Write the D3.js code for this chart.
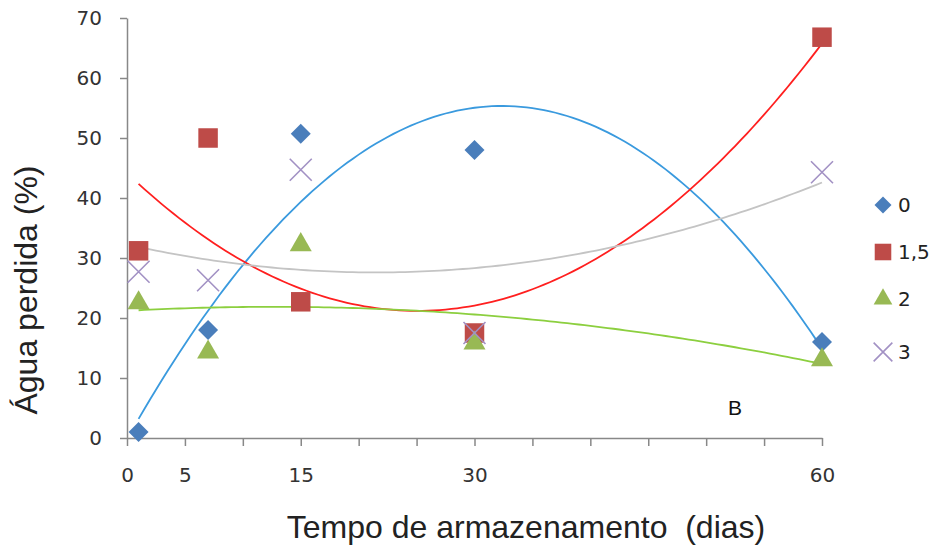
<!DOCTYPE html>
<meta charset="utf-8">
<style>
body { margin: 0; background: #fff; }
.tick text { font-family: "DejaVu Sans", Verdana, sans-serif; font-size: 20px; fill: #333; }
.axis path, .axis line { stroke: #888; stroke-width: 1.5; }
.title { font-family: "Liberation Sans", Arial, sans-serif; font-size: 32px; fill: #222; }
.legend text { font-family: "DejaVu Sans", Verdana, sans-serif; font-size: 20px; fill: #222; }
</style>
<body>
<script src="https://d3js.org/d3.v7.min.js"></script>
<script>

// storage days
var days = [1, 7, 15, 30, 60];

// water lost (%) per treatment
var s0  = [1.0, 18.0, 50.7, 48.0, 16.0];
var s15 = [31.2, 50.0, 22.7, 17.5, 66.8];
var s2  = [22.5, 14.3, 32.2, 15.8, 13.0];
var s3  = [27.7, 26.3, 44.7, 17.5, 44.3];

var seriesNames = ["0", "1,5", "2", "3"];
var xTicks = [0, 5, 10, 15, 20, 25, 30, 35, 40, 45, 50, 55, 60];
var xLabels = [0, 5, 15, 30, 60];
var yTicks = [0, 10, 20, 30, 40, 50, 60, 70];

var width = 935, height = 554;

var x = d3.scaleLinear().domain([0, 60]).range([127, 822]);
var y = d3.scaleLinear().domain([0, 70]).range([438, 18]);

var svg = d3.select("body").append("svg")
    .attr("width", width)
    .attr("height", height);

// axes
svg.append("g")
    .attr("class", "axis")
    .attr("transform", "translate(0,438)")
    .call(d3.axisBottom(x).tickValues(xTicks).tickSize(8).tickSizeOuter(0)
      .tickFormat(function(d) { return xLabels.indexOf(d) >= 0 ? d : ""; }))
    .call(function(g) { g.selectAll("text").attr("dy", 0).attr("y", 44); });

svg.append("g")
    .attr("class", "axis")
    .attr("transform", "translate(127,0)")
    .call(d3.axisLeft(y).tickValues(yTicks).tickSize(7).tickSizeOuter(0))
    .call(function(g) { g.selectAll("text").attr("x", -25); });

// quadratic least squares fit (Excel poly trendline, order 2)
function polyFit(xs, ys) {
  var n = xs.length, S = [0,0,0,0,0], T = [0,0,0];
  for (var i = 0; i < n; i++) {
    var p = 1;
    for (var k = 0; k < 5; k++) { S[k] += p; if (k < 3) T[k] += p * ys[i]; p *= xs[i]; }
  }
  var A = [[S[0],S[1],S[2],T[0]],[S[1],S[2],S[3],T[1]],[S[2],S[3],S[4],T[2]]];
  for (var c = 0; c < 3; c++) {
    for (var r = c + 1; r < 3; r++) {
      var f = A[r][c] / A[c][c];
      for (var j = c; j < 4; j++) A[r][j] -= f * A[c][j];
    }
  }
  var co = [0,0,0];
  for (var r2 = 2; r2 >= 0; r2--) {
    var s = A[r2][3];
    for (var j2 = r2 + 1; j2 < 3; j2++) s -= A[r2][j2] * co[j2];
    co[r2] = s / A[r2][r2];
  }
  return function(t) { return co[0] + co[1] * t + co[2] * t * t; };
}

var series = [
  { name: seriesNames[0], vals: s0,  color: "#4a7ebb", trend: "#3a9ade", shape: d3.symbolSquare, size: 200, rot: 45 },
  { name: seriesNames[1], vals: s15, color: "#be4b48", trend: "#ff1f1f", shape: d3.symbolSquare, size: 380, rot: 0 },
  { name: seriesNames[2], vals: s2,  color: "#98b954", trend: "#8ccf3f", shape: d3.symbolTriangle, size: 210, rot: 0 },
  { name: seriesNames[3], vals: s3,  color: "#a291c4", trend: "#c4c4c4", shape: null, size: 0, rot: 0 }
];

var line = d3.line().x(function(d) { return x(d[0]); }).y(function(d) { return y(d[1]); });
var tGrid = d3.range(1, 60.01, 0.5);

series.forEach(function(s) {
  var f = polyFit(days, s.vals);
  svg.append("path")
    .datum(tGrid.map(function(t) { return [t, f(t)]; }))
    .attr("d", line)
    .attr("fill", "none")
    .attr("stroke", s.trend)
    .attr("stroke-width", 1.8);
});

function drawMarker(g, s, cx, cy, scale) {
  if (!s.shape) {
    var h = 11 * scale;
    g.append("path")
      .attr("d", "M" + (cx - h) + "," + (cy - h) + "L" + (cx + h) + "," + (cy + h) +
                 "M" + (cx - h) + "," + (cy + h) + "L" + (cx + h) + "," + (cy - h))
      .attr("stroke", s.color).attr("stroke-width", 1.6).attr("fill", "none");
  } else {
    g.append("path")
      .attr("d", d3.symbol().type(s.shape).size(s.size * scale * scale)())
      .attr("transform", "translate(" + cx + "," + cy + ") rotate(" + s.rot + ")")
      .attr("fill", s.color);
  }
}

series.forEach(function(s) {
  var g = svg.append("g");
  s.vals.forEach(function(v, i) { drawMarker(g, s, x(days[i]), y(v), 1); });
});

// legend
var legend = svg.append("g").attr("class", "legend");
var legY = [205, 252, 299, 352];
series.forEach(function(s, i) {
  drawMarker(legend, s, 883, legY[i], 0.85);
  legend.append("text").attr("x", 898).attr("y", legY[i]).attr("dy", "0.36em").text(s.name);
});

// titles
svg.append("text").attr("class", "title")
    .attr("text-anchor", "middle")
    .attr("transform", "translate(37,290) rotate(-90)")
    .text("Água perdida (%)");

svg.append("text").attr("class", "title")
    .attr("text-anchor", "middle")
    .attr("x", 526).attr("y", 538)
    .style("white-space", "pre")
    .text("Tempo de armazenamento  (dias)");

svg.append("text")
    .attr("x", 728).attr("y", 415)
    .style("font-family", "Liberation Sans, Arial, sans-serif")
    .style("font-size", "21px")
    .style("fill", "#111")
    .text("B");

</script>
</body>
